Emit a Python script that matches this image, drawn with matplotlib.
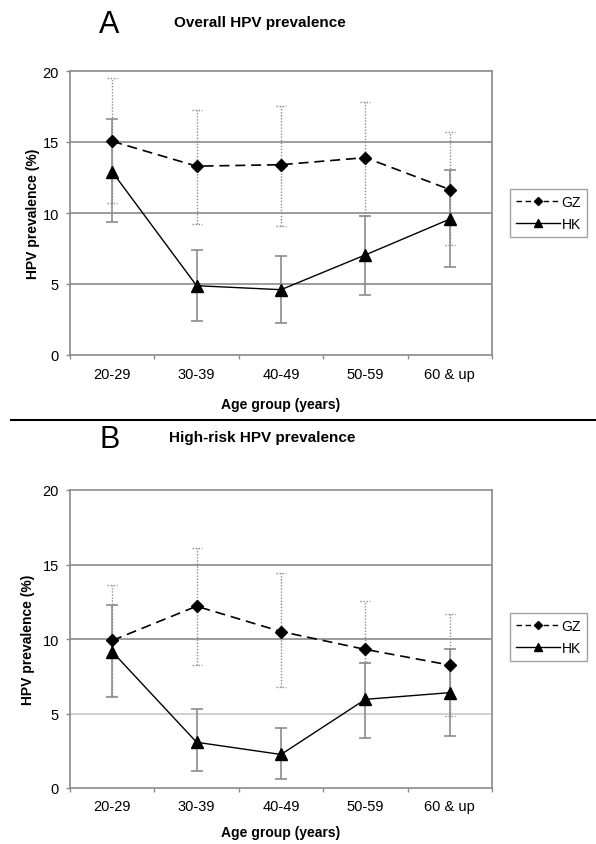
import matplotlib
matplotlib.use("Agg")
import matplotlib.pyplot as plt
from matplotlib.lines import Line2D
import numpy as np

plt.rcParams['font.family'] = ['Liberation Sans', 'DejaVu Sans']

categories = ["20-29", "30-39", "40-49", "50-59", "60 & up"]
yticks = [0, 5, 10, 15, 20]

# Panel A: Overall HPV prevalence
gz_a = [15.05, 13.3, 13.4, 13.9, 11.65]
gz_a_lo = [10.7, 9.2, 9.05, 9.8, 7.75]
gz_a_hi = [19.5, 17.25, 17.55, 17.85, 15.7]
hk_a = [12.9, 4.88, 4.6, 7.05, 9.57]
hk_a_lo = [9.4, 2.4, 2.25, 4.25, 6.2]
hk_a_hi = [16.6, 7.4, 7.0, 9.8, 13.05]

# Panel B: High-risk HPV prevalence
gz_b = [9.9, 12.2, 10.5, 9.3, 8.25]
gz_b_lo = [6.2, 8.25, 6.75, 8.45, 4.85]
gz_b_hi = [13.65, 16.1, 14.45, 12.55, 11.65]
hk_b = [9.15, 3.07, 2.25, 5.95, 6.4]
hk_b_lo = [6.1, 1.15, 0.6, 3.35, 3.5]
hk_b_hi = [12.25, 5.3, 4.05, 8.4, 9.3]

W, H = 596, 845
fig = plt.figure(figsize=(W / 100, H / 100), dpi=100)

GRID = '#8a8a8a'
ERR = '#8c8c8c'


def make_panel(rect, gz, gz_lo, gz_hi, hk, hk_lo, hk_hi, light5, tick_off, xlab_off, ylab_x, legend_rect):
    l, t, r, b = rect
    ax = fig.add_axes([l / W, 1 - b / H, (r - l) / W, (b - t) / H])
    x = np.arange(len(categories))
    ax.set_xlim(-0.5, len(categories) - 0.5)
    ax.set_ylim(0, 20)
    # grid lines
    for v in yticks[1:-1]:
        c = '#c8c8c8' if (light5 and v == 5) else GRID
        ax.axhline(v, color=c, lw=1.2, zorder=1)
    # error bars: GZ dotted, HK solid
    capw = 0.06
    ax.vlines(x, gz_lo, gz_hi, colors=ERR, linestyles=(0, (1, 1.2)), lw=1.0, zorder=2)
    ax.hlines(gz_lo, x - capw, x + capw, colors=ERR, linestyles=(0, (1, 1.2)), lw=1.0, zorder=2)
    ax.hlines(gz_hi, x - capw, x + capw, colors=ERR, linestyles=(0, (1, 1.2)), lw=1.0, zorder=2)
    ax.errorbar(x, hk, yerr=[np.array(hk) - np.array(hk_lo), np.array(hk_hi) - np.array(hk)],
                fmt='none', ecolor=ERR, elinewidth=1.2, capsize=4, capthick=1.2, zorder=2)
    ax.plot(x, gz, color='black', ls=(0, (6, 3.5)), lw=1.2, marker='D', ms=6,
            mfc='black', mec='black', zorder=4)
    ax.plot(x, hk, color='black', ls='-', lw=1.0, marker='^', ms=8.5,
            mfc='black', mec='black', zorder=4)
    for s in ax.spines.values():
        s.set_color(GRID)
        s.set_linewidth(1.2)
    ax.set_yticks(yticks)
    ax.set_yticklabels([str(v) for v in yticks])
    ax.set_xticks(np.arange(len(categories) + 1) - 0.5)
    ax.set_xticklabels([])
    ax.set_xticks(x, minor=True)
    ax.set_xticklabels(categories, minor=True)
    ax.tick_params(axis='y', length=3, width=1, color=GRID, pad=5, labelsize=10.5)
    ax.tick_params(axis='x', which='major', length=3, width=1, color=GRID)
    ax.tick_params(axis='x', which='minor', length=0, labelsize=10.5)
    for lab in ax.get_xticklabels(minor=True):
        lab.set_va('center')
    ax.xaxis.set_tick_params(which='minor', pad=tick_off * 0.72 + 0)
    ax.set_xlabel('Age group (years)', fontsize=10, fontweight='bold', va='center')
    ax.xaxis.set_label_coords(0.5, -xlab_off / (b - t))
    ax.set_ylabel('HPV prevalence (%)', fontsize=10, fontweight='bold', va='center')
    ax.yaxis.set_label_coords((ylab_x - l) / (r - l), 0.5)
    # legend
    handles = [Line2D([], [], color='black', ls=(0, (4, 2.5)), lw=1.0, marker='D', ms=4.5),
               Line2D([], [], color='black', ls='-', lw=1.0, marker='^', ms=6)]
    ll, lt, lr, lb = legend_rect
    leg = fig.legend(handles, ['GZ', 'HK'], loc='center',
                     bbox_to_anchor=((ll + lr) / 2 / W, 1 - (lt + lb) / 2 / H),
                     fontsize=10, frameon=True, fancybox=False, handlelength=3.2,
                     handletextpad=0.1, borderpad=0.45, labelspacing=0.6, borderaxespad=0)
    leg.get_frame().set_edgecolor(GRID)
    leg.get_frame().set_linewidth(1.0)
    return ax


make_panel((70, 72, 492, 356), gz_a, gz_a_lo, gz_a_hi, hk_a, hk_a_lo, hk_a_hi,
           False, 19, 49, 33, (507, 188, 590, 240))
make_panel((70, 491, 492, 789), gz_b, gz_b_lo, gz_b_hi, hk_b, hk_b_lo, hk_b_hi,
           True, 18, 44, 28, (507, 613, 590, 663))

fig.text(109 / W, 1 - 25 / H, 'A', fontsize=22, ha='center', va='center')
fig.text(260 / W, 1 - 23 / H, 'Overall HPV prevalence', fontsize=11, fontweight='bold',
         ha='center', va='center')
fig.text(110 / W, 1 - 440 / H, 'B', fontsize=22, ha='center', va='center')
fig.text(262 / W, 1 - 438 / H, 'High-risk HPV prevalence', fontsize=11, fontweight='bold',
         ha='center', va='center')
fig.add_artist(Line2D([11 / W, 1], [1 - 421 / H, 1 - 421 / H], color='black', lw=1.5))

fig.savefig('out.png', dpi=100)
